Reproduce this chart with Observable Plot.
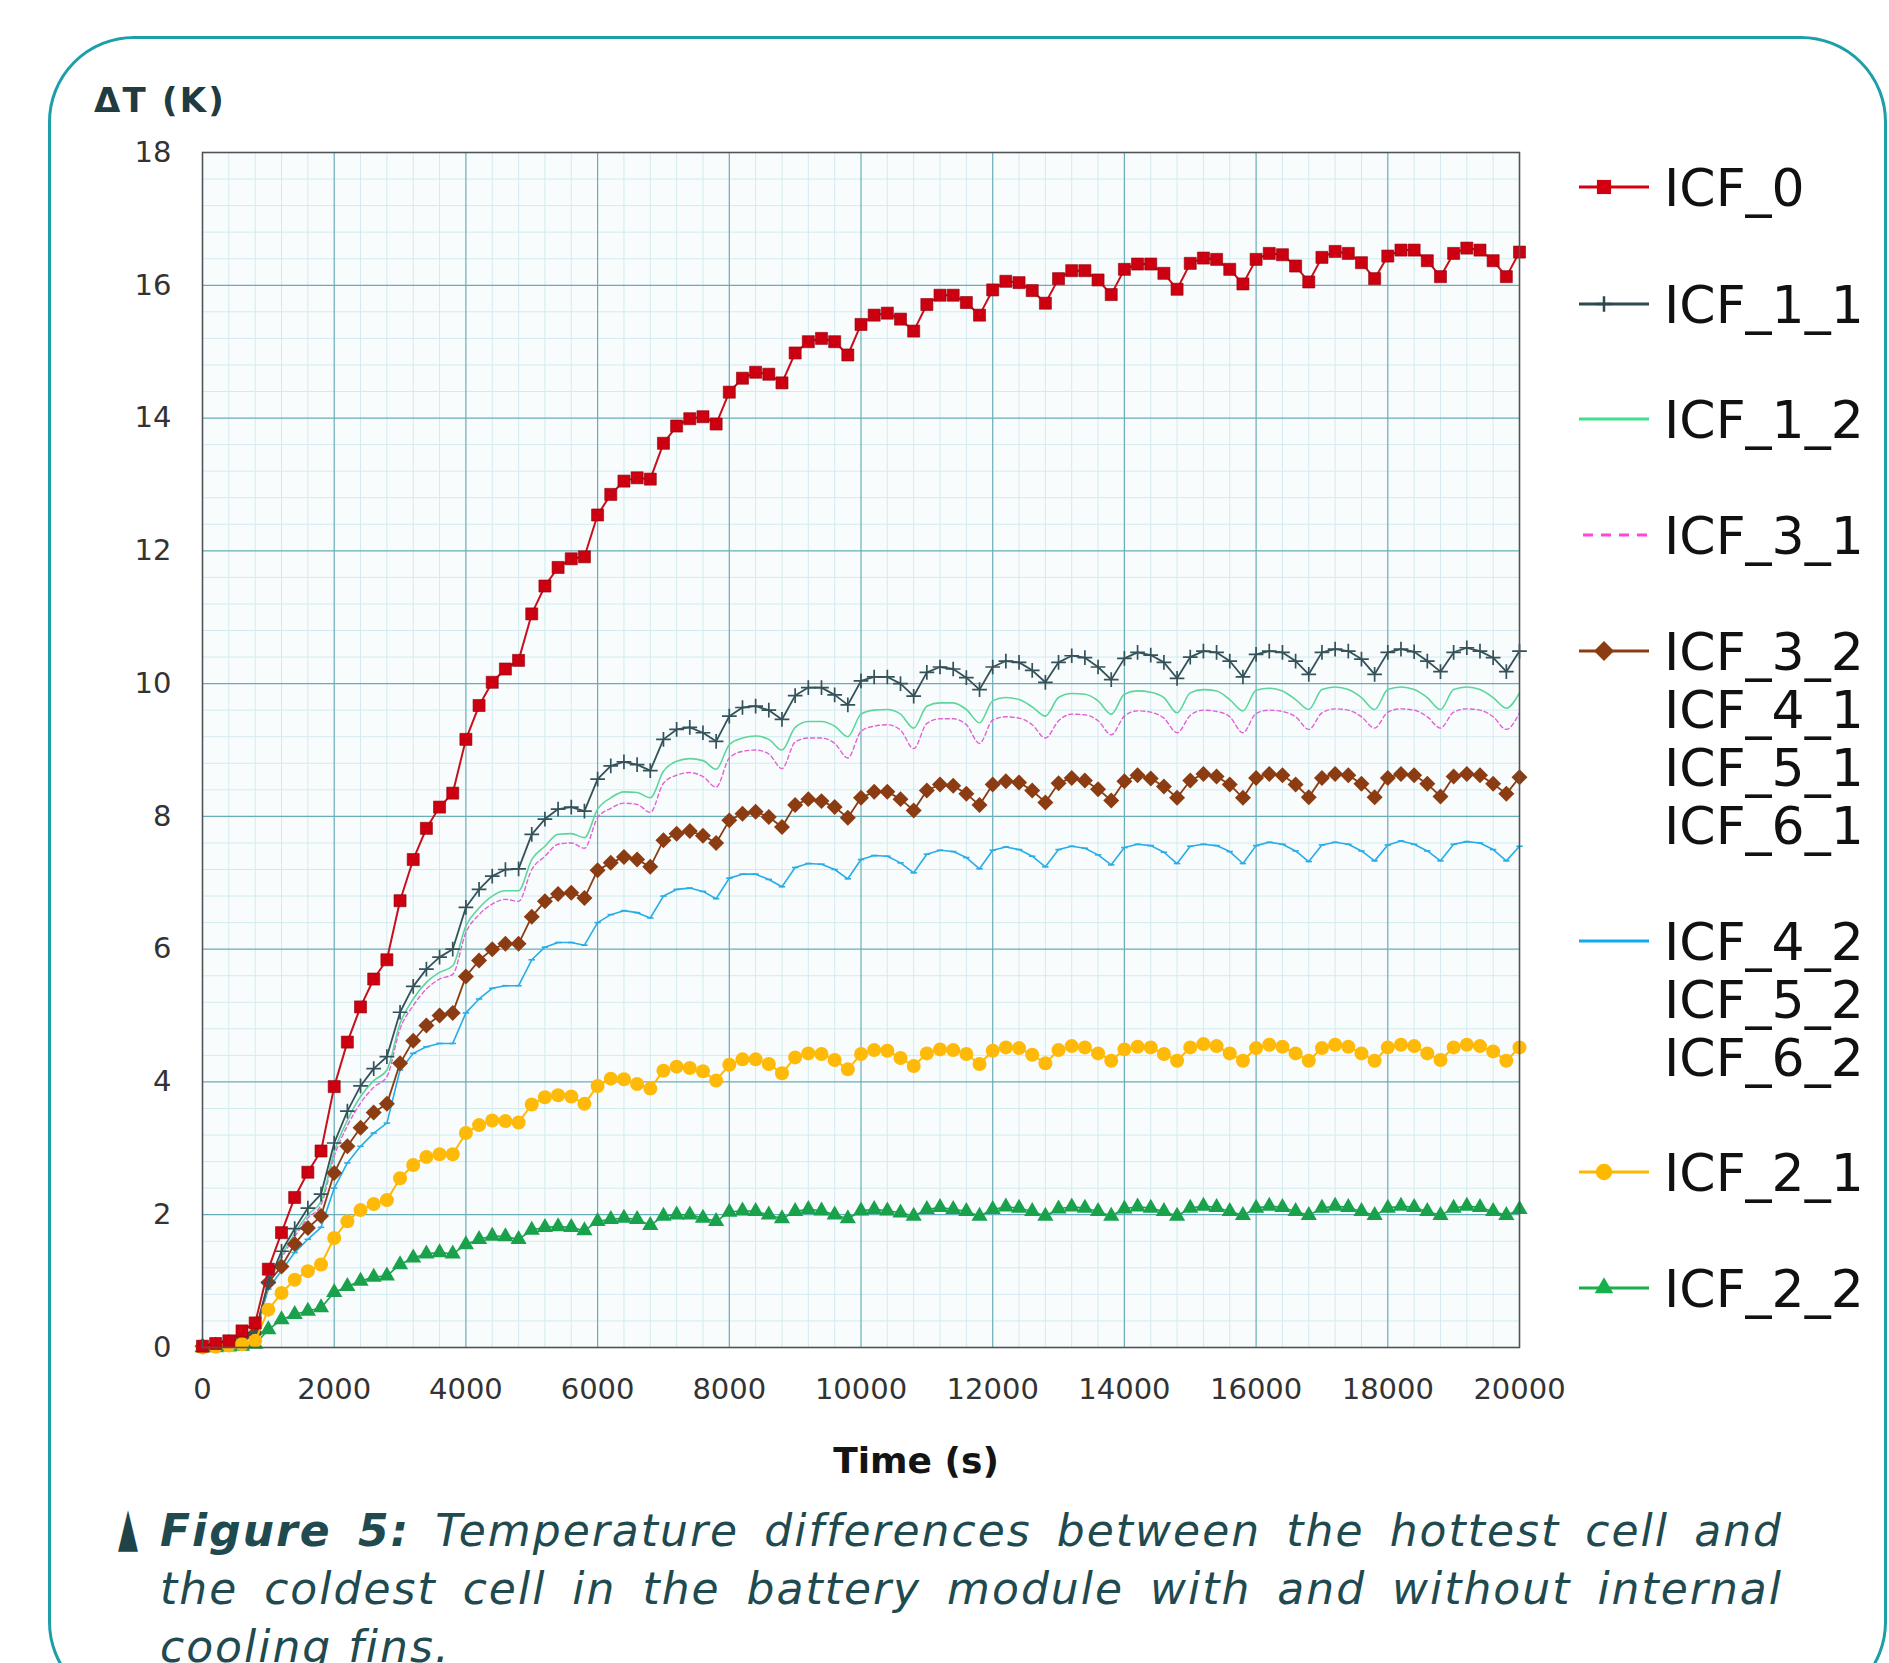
<!DOCTYPE html>
<html>
<head>
<meta charset="utf-8">
<script src="https://cdn.jsdelivr.net/npm/d3@7"></script>
<script src="https://cdn.jsdelivr.net/npm/@observablehq/plot@0.6"></script>
<style>
  html, body { margin: 0; padding: 0; background: #ffffff; }
  body { width: 1889px; height: 1663px; position: relative; overflow: hidden; font-family: "DejaVu Sans", Verdana, sans-serif; }
  #box { position: absolute; left: 48px; top: 36px; width: 1839px; height: 1672px; box-sizing: border-box;
         border: 3px solid #1c9fa9; border-radius: 86px; }
  #chart { position: absolute; left: 0; top: 0; }
  #ylab { position: absolute; left: 94px; top: 83px; font-size: 34px; font-weight: bold; line-height: 1; color: #223b40; letter-spacing: 2.2px; }
  #xlab { position: absolute; left: 916px; top: 1443px; transform: translateX(-50%); font-size: 36px; font-weight: bold; line-height: 1; color: #141414; }
  .leg { position: absolute; left: 1579px; height: 58px; }
  .leg svg { position: absolute; left: 0; top: 0; }
  .leg .txt { position: absolute; left: 85px; top: 0; font-size: 52px; line-height: 58px; color: #111; white-space: nowrap; }
  #caption { position: absolute; left: 160px; top: 1502px; width: 1623px; font-size: 44px; line-height: 58px; font-style: italic; color: #1e4a50; letter-spacing: 2px; }
  #caption .ln { white-space: nowrap; text-align: justify; text-align-last: justify; }
  #caption .last { white-space: nowrap; text-align: left; }
  #tri { position: absolute; left: 118px; top: 1500px; font-size: 54px; line-height: 1; color: #1e4348; transform: scaleX(0.48); transform-origin: left center; }
</style>
</head>
<body>
<div id="box"></div>
<div id="chart"></div>
<div id="ylab">ΔT (K)</div>
<div id="xlab">Time (s)</div>
<div id="legend"></div>
<div id="tri">▲</div>
<div id="caption">
  <div class="ln"><b>Figure 5:</b> Temperature differences between the hottest cell and</div>
  <div class="ln">the coldest cell in the battery module with and without internal</div>
  <div class="last">cooling fins.</div>
</div>
<script>
// ---------- data ----------
const times = [0,200,400,600,800,1000,1200,1400,1600,1800,2000,2200,2400,2600,2800,3000,3200,3400,3600,3800,
  4000,4200,4400,4600,4800,5000,5200,5400,5600,5800,6000,6200,6400,6600,6800,7000,7200,7400,7600,7800,
  8000,8200,8400,8600,8800,9000,9200,9400,9600,9800,10000,10200,10400,10600,10800,11000,11200,11400,11600,11800,
  12000,12200,12400,12600,12800,13000,13200,13400,13600,13800,14000,14200,14400,14600,14800,15000,15200,15400,15600,15800,
  16000,16200,16400,16600,16800,17000,17200,17400,17600,17800,18000,18200,18400,18600,18800,19000,19200,19400,19600,19800,20000];

const ICF_0 = [0.02,0.06,0.10,0.25,0.37,1.18,1.73,2.26,2.64,2.96,3.93,4.60,5.13,5.55,5.84,6.73,7.35,7.82,8.14,8.35,
  9.16,9.67,10.02,10.22,10.35,11.05,11.47,11.75,11.88,11.91,12.54,12.85,13.05,13.10,13.08,13.62,13.88,13.99,14.02,13.91,
  14.39,14.60,14.69,14.66,14.53,14.98,15.15,15.20,15.15,14.95,15.41,15.55,15.58,15.49,15.31,15.71,15.85,15.85,15.74,15.55,
  15.93,16.06,16.04,15.92,15.73,16.10,16.22,16.22,16.08,15.86,16.24,16.32,16.32,16.18,15.94,16.33,16.41,16.39,16.24,16.02,
  16.39,16.48,16.46,16.29,16.05,16.42,16.51,16.48,16.34,16.10,16.44,16.53,16.53,16.37,16.13,16.48,16.56,16.53,16.37,16.13,16.50];

const ICF_1_1 = [0.02,0.03,0.06,0.15,0.22,0.98,1.45,1.79,2.10,2.31,3.08,3.56,3.94,4.20,4.38,5.05,5.44,5.70,5.88,6.00,
  6.63,6.90,7.10,7.20,7.21,7.73,7.96,8.11,8.14,8.08,8.56,8.76,8.82,8.78,8.69,9.16,9.31,9.34,9.26,9.13,
  9.51,9.64,9.66,9.60,9.46,9.82,9.94,9.94,9.83,9.68,10.04,10.10,10.10,10.00,9.81,10.17,10.25,10.22,10.09,9.91,
  10.25,10.34,10.32,10.20,10.02,10.32,10.42,10.39,10.25,10.06,10.38,10.47,10.43,10.32,10.08,10.40,10.49,10.47,10.34,10.10,
  10.44,10.49,10.47,10.34,10.14,10.47,10.52,10.49,10.37,10.14,10.47,10.52,10.48,10.34,10.18,10.47,10.54,10.49,10.39,10.18,10.49];

const ICF_1_2 = [0.02,0.03,0.06,0.14,0.21,0.95,1.38,1.72,2.00,2.20,2.95,3.42,3.78,4.02,4.18,4.88,5.25,5.50,5.65,5.75,
  6.35,6.62,6.80,6.88,6.88,7.35,7.55,7.73,7.74,7.68,8.11,8.28,8.37,8.36,8.28,8.68,8.83,8.87,8.84,8.71,
  9.08,9.18,9.21,9.16,9.00,9.34,9.43,9.43,9.36,9.20,9.54,9.60,9.61,9.54,9.33,9.66,9.71,9.71,9.61,9.41,
  9.74,9.79,9.76,9.65,9.51,9.79,9.85,9.84,9.74,9.54,9.84,9.89,9.87,9.79,9.56,9.86,9.91,9.89,9.76,9.59,
  9.90,9.93,9.89,9.76,9.61,9.91,9.95,9.91,9.79,9.61,9.91,9.95,9.91,9.79,9.61,9.91,9.95,9.91,9.79,9.63,9.86];

const ICF_3_1 = [0.02,0.03,0.06,0.13,0.20,0.93,1.34,1.67,1.95,2.15,2.88,3.34,3.68,3.92,4.08,4.80,5.15,5.40,5.55,5.62,
  6.25,6.52,6.68,6.75,6.72,7.20,7.40,7.58,7.60,7.52,7.98,8.12,8.20,8.18,8.06,8.50,8.62,8.66,8.60,8.44,
  8.88,8.98,9.00,8.94,8.72,9.12,9.18,9.18,9.10,8.88,9.28,9.36,9.38,9.30,9.02,9.40,9.47,9.47,9.38,9.10,
  9.45,9.50,9.48,9.38,9.18,9.44,9.54,9.53,9.44,9.23,9.51,9.59,9.57,9.48,9.26,9.52,9.60,9.58,9.50,9.26,
  9.55,9.60,9.58,9.50,9.31,9.56,9.62,9.60,9.50,9.33,9.57,9.62,9.60,9.50,9.33,9.57,9.62,9.60,9.50,9.31,9.56];

const ICF_3_2 = [0.02,0.04,0.08,0.15,0.22,0.98,1.22,1.56,1.80,1.98,2.63,3.03,3.31,3.54,3.67,4.28,4.62,4.85,5.00,5.04,
  5.59,5.83,6.00,6.08,6.08,6.49,6.72,6.83,6.85,6.77,7.19,7.30,7.39,7.35,7.24,7.64,7.74,7.78,7.71,7.60,
  7.94,8.04,8.07,7.99,7.84,8.17,8.26,8.23,8.14,7.98,8.28,8.37,8.37,8.26,8.09,8.39,8.48,8.46,8.34,8.17,
  8.48,8.53,8.51,8.39,8.21,8.50,8.58,8.54,8.41,8.24,8.53,8.62,8.57,8.45,8.28,8.54,8.64,8.60,8.48,8.28,
  8.58,8.64,8.62,8.48,8.29,8.58,8.64,8.62,8.49,8.29,8.58,8.64,8.62,8.49,8.30,8.60,8.64,8.62,8.49,8.34,8.59];

const ICF_4_2 = [0.02,0.03,0.06,0.13,0.20,0.88,1.16,1.43,1.63,1.81,2.40,2.78,3.03,3.23,3.38,4.18,4.43,4.53,4.58,4.58,
  5.04,5.25,5.41,5.45,5.45,5.84,6.03,6.10,6.10,6.06,6.40,6.52,6.58,6.55,6.47,6.80,6.90,6.92,6.87,6.76,
  7.07,7.13,7.13,7.05,6.94,7.23,7.29,7.28,7.20,7.06,7.35,7.41,7.40,7.30,7.15,7.43,7.49,7.47,7.38,7.21,
  7.49,7.54,7.50,7.40,7.24,7.50,7.55,7.52,7.42,7.27,7.53,7.58,7.56,7.46,7.29,7.55,7.58,7.56,7.47,7.29,
  7.56,7.61,7.58,7.48,7.32,7.57,7.61,7.58,7.48,7.33,7.57,7.63,7.58,7.48,7.33,7.58,7.62,7.60,7.50,7.33,7.55];

const ICF_2_1 = [0.00,0.01,0.03,0.05,0.10,0.57,0.82,1.02,1.15,1.25,1.65,1.90,2.07,2.16,2.22,2.55,2.75,2.87,2.91,2.91,
  3.23,3.35,3.42,3.41,3.39,3.66,3.77,3.80,3.78,3.67,3.94,4.05,4.04,3.97,3.90,4.17,4.23,4.21,4.16,4.02,
  4.26,4.34,4.34,4.27,4.13,4.37,4.43,4.42,4.33,4.19,4.42,4.48,4.47,4.36,4.24,4.43,4.49,4.48,4.42,4.27,
  4.47,4.52,4.51,4.41,4.28,4.48,4.54,4.52,4.43,4.32,4.49,4.53,4.52,4.42,4.32,4.52,4.57,4.54,4.43,4.32,
  4.51,4.56,4.53,4.43,4.32,4.51,4.56,4.53,4.43,4.32,4.52,4.56,4.54,4.43,4.33,4.52,4.56,4.54,4.46,4.32,4.52];

const ICF_2_2 = [0.00,0.00,0.01,0.02,0.05,0.27,0.42,0.50,0.55,0.60,0.83,0.92,1.00,1.06,1.08,1.25,1.35,1.41,1.43,1.41,
  1.55,1.63,1.68,1.67,1.63,1.77,1.81,1.82,1.81,1.76,1.90,1.93,1.95,1.93,1.84,1.98,2.00,2.00,1.95,1.90,
  2.04,2.06,2.05,2.00,1.94,2.05,2.08,2.06,2.00,1.94,2.06,2.08,2.06,2.03,1.98,2.08,2.11,2.08,2.05,1.98,
  2.08,2.12,2.10,2.05,1.98,2.09,2.12,2.10,2.05,1.98,2.09,2.12,2.10,2.05,1.98,2.10,2.13,2.11,2.05,1.99,
  2.10,2.13,2.11,2.05,1.99,2.10,2.13,2.11,2.05,1.99,2.10,2.13,2.11,2.05,1.99,2.10,2.13,2.11,2.05,1.99,2.08];

const xTicks = [0,2000,4000,6000,8000,10000,12000,14000,16000,18000,20000];
const yTicks = [0,2,4,6,8,10,12,14,16,18];

const legendGroups = [["ICF_0"],["ICF_1_1"],["ICF_1_2"],["ICF_3_1"],
  ["ICF_3_2","ICF_4_1","ICF_5_1","ICF_6_1"],["ICF_4_2","ICF_5_2","ICF_6_2"],["ICF_2_1"],["ICF_2_2"]];

// ---------- build ----------
const rows = vals => times.map((t, i) => ({t, v: vals[i]}));
const d0 = rows(ICF_0), d11 = rows(ICF_1_1), d12 = rows(ICF_1_2), d31 = rows(ICF_3_1),
      d32 = rows(ICF_3_2), d42 = rows(ICF_4_2), d21 = rows(ICF_2_1), d22 = rows(ICF_2_2);

const minorX = d3.range(1, 50).map(i => i * 400).filter(v => v % 2000 !== 0);
const minorY = d3.range(1, 45).filter(i => i % 5 !== 0).map(i => i * 0.4);
const majorX = xTicks.slice(1, -1);
const majorY = yTicks.slice(1, -1);

const dash = { draw(ctx, size) { const r = Math.sqrt(size / Math.PI); ctx.moveTo(-r, 0); ctx.lineTo(r, 0); } };

const C = {
  red: "#c8101c", gray: "#34525a", lgreen: "#5ed59b", pink: "#e460d4",
  brown: "#8c3c12", blue: "#27ade8", gold: "#ffb908", green: "#19a24b"
};

const chart = Plot.plot({
  width: 1540, height: 1420,
  marginLeft: 202, marginRight: 21, marginTop: 152, marginBottom: 73,
  style: { fontFamily: "DejaVu Sans, Verdana, sans-serif", fontSize: "29px", color: "#333333", background: "none", overflow: "visible" },
  x: { domain: [0, 20000], ticks: xTicks, tickFormat: d => String(d), tickSize: 0, tickPadding: 31, label: null },
  y: { domain: [0, 18], ticks: yTicks, tickSize: 0, tickPadding: 31, label: null },
  marks: [
    Plot.frame({ fill: "#f8fcfd" }),
    Plot.ruleX(minorX, { stroke: "#d2ebef", strokeWidth: 1 }),
    Plot.ruleY(minorY, { stroke: "#d2ebef", strokeWidth: 1 }),
    Plot.ruleX(majorX, { stroke: "#68adb7", strokeWidth: 1.2 }),
    Plot.ruleY(majorY, { stroke: "#68adb7", strokeWidth: 1.2 }),

    Plot.line(d42, { x: "t", y: "v", stroke: C.blue, strokeWidth: 1.6 }),
    Plot.dot(d42, { x: "t", y: "v", symbol: dash, r: 3.2, stroke: C.blue, fill: "none", strokeWidth: 1.6 }),
    Plot.line(d31, { x: "t", y: "v", stroke: C.pink, strokeWidth: 1.4, strokeDasharray: "4,3", curve: "monotone-x" }),
    Plot.line(d12, { x: "t", y: "v", stroke: C.lgreen, strokeWidth: 1.6, curve: "monotone-x" }),
    Plot.line(d32, { x: "t", y: "v", stroke: C.brown, strokeWidth: 1.8 }),
    Plot.dot(d32, { x: "t", y: "v", symbol: "diamond2", r: 7.2, fill: C.brown, stroke: "none" }),
    Plot.line(d11, { x: "t", y: "v", stroke: C.gray, strokeWidth: 1.8 }),
    Plot.dot(d11, { x: "t", y: "v", symbol: "plus", r: 4.8, stroke: C.gray, fill: "none", strokeWidth: 1.7 }),
    Plot.line(d22, { x: "t", y: "v", stroke: C.green, strokeWidth: 1.6 }),
    Plot.dot(d22, { x: "t", y: "v", symbol: "triangle", r: 6, fill: C.green, stroke: "none" }),
    Plot.line(d21, { x: "t", y: "v", stroke: C.gold, strokeWidth: 2 }),
    Plot.dot(d21, { x: "t", y: "v", symbol: "circle", r: 7, fill: C.gold, stroke: "none" }),
    Plot.line(d0, { x: "t", y: "v", stroke: C.red, strokeWidth: 2 }),
    Plot.dot(d0, { x: "t", y: "v", symbol: "square", r: 6.8, fill: "#cc0010", stroke: "#8e0008", strokeWidth: 0.6 }),

    Plot.frame({ stroke: "#4f5556", strokeWidth: 1.6 })
  ]
});
document.getElementById("chart").appendChild(chart);

// ---------- legend ----------
const legendStyles = [
  { color: "#d20010", sym: d3.symbolSquare, size: 200, fill: true },
  { color: "#2e4a50", sym: d3.symbolPlus, size: 80, fill: false },
  { color: "#3ee08c", sym: null },
  { color: "#ff46dc", sym: null, dashed: true },
  { color: "#8b3c12", sym: d3.symbolDiamond2, size: 255, fill: true },
  { color: "#12a9f0", sym: null },
  { color: "#ffb800", sym: d3.symbolCircle, size: 210, fill: true },
  { color: "#17b04a", sym: d3.symbolTriangle, size: 150, fill: true }
];
const legendCenters = [187, 304, 419, 535, 651, 941, 1172, 1288];
const legend = d3.select("#legend");
legendGroups.forEach((labels, i) => {
  const st = legendStyles[i];
  const div = legend.append("div").attr("class", "leg").style("top", (legendCenters[i] - 28) + "px");
  const svg = div.append("svg").attr("width", 75).attr("height", 58);
  svg.append("line").attr("x1", st.dashed ? 4 : 0).attr("x2", 70).attr("y1", 28).attr("y2", 28)
    .attr("stroke", st.color).attr("stroke-width", 3)
    .attr("stroke-dasharray", st.dashed ? "10,8" : null);
  if (st.sym) {
    svg.append("path").attr("transform", "translate(25,28)")
      .attr("d", d3.symbol(st.sym, st.size)())
      .attr("fill", st.fill ? st.color : "none")
      .attr("stroke", st.fill ? "none" : st.color).attr("stroke-width", 2.5);
  }
  const txt = div.append("div").attr("class", "txt");
  labels.forEach(l => txt.append("div").text(l));
});
</script>
</body>
</html>
